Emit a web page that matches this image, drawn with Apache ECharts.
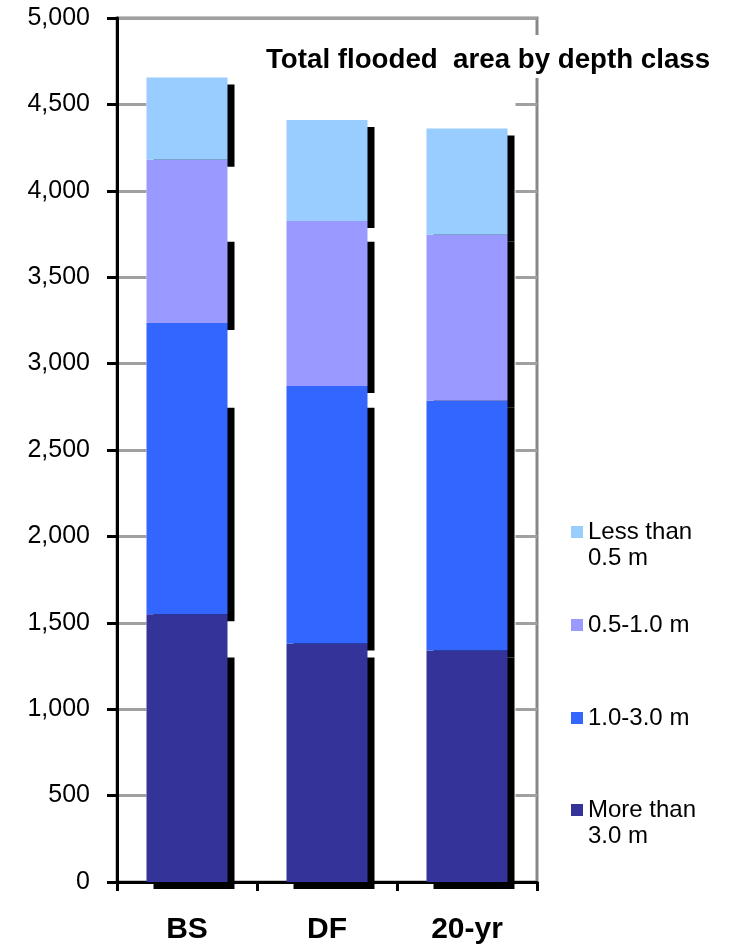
<!DOCTYPE html>
<html>
<head>
<meta charset="utf-8">
<script src="https://cdn.jsdelivr.net/npm/echarts@6/dist/echarts.min.js"></script>
<style>
  html, body { margin: 0; padding: 0; background: #ffffff; }
  #chart { width: 731px; height: 945px; }
</style>
</head>
<body>
<div id="chart"></div>
<script>
// Flooded area (stacked by depth class) for each scenario
const categories = ['BS', 'DF', '20-yr'];
const seriesNames = ['More than 3.0 m', '1.0-3.0 m', '0.5-1.0 m', 'Less than 0.5 m'];
const moreThan3m = [1550, 1380, 1340];
const from1to3m = [1685, 1490, 1445];
const from05to1m = [945, 955, 960];
const lessThan05m = [475, 585, 615];
const legendLabels = ['More than\n3.0 m', '1.0-3.0 m', '0.5-1.0 m', 'Less than\n0.5 m'];
const yMin = 0, yMax = 5000, yStep = 500;
const titleText = 'Total flooded  area by depth class';

const layers = [moreThan3m, from1to3m, from05to1m, lessThan05m];
const colors = ['#333399', '#3366FF', '#9999FF', '#99CCFF'];
const FONT = "'Liberation Sans', Arial, sans-serif";
const BAR_W = 81;   // bar width in px
const SH = 7;       // hard drop-shadow offset in px

// Shadow strips behind each stacked segment: [category, base, visible top]
const shadowRows = [];
const bases = categories.map(() => 0);
layers.forEach((vals, k) => {
  const tops = vals.map((v, c) => bases[c] + v);
  const layerMinTop = Math.min(...tops);
  vals.forEach((v, c) => {
    const top = tops[c];
    const vis = k < layers.length - 1 ? Math.min(top, layerMinTop) : top;
    shadowRows.push([c, bases[c], vis]);
  });
  tops.forEach((t, c) => { bases[c] = t; });
});

const chart = echarts.init(document.getElementById('chart'), null, { renderer: 'canvas' });

// Legend: one block per item, top layer listed first; two-line labels keep
// the swatch level with their first line (blank leading line balances the block)
const legendTops = [771, 705, 612, 493];
const legends = seriesNames.map((name, k) => {
  const twoLine = legendLabels[k].indexOf('\n') >= 0;
  return {
    orient: 'vertical',
    left: 571,
    top: legendTops[k],
    padding: 0,
    itemWidth: 12,
    itemHeight: 12,
    icon: 'rect',
    selectedMode: false,
    data: [name],
    formatter: () => (twoLine ? '\n' : '') + legendLabels[k],
    textStyle: {
      fontFamily: FONT,
      fontSize: 24,
      color: '#000',
      lineHeight: 26
    }
  };
});

const barSeries = layers.map((vals, k) => ({
  name: seriesNames[k],
  type: 'bar',
  stack: 'area',
  z: 3,
  barWidth: BAR_W,
  data: vals,
  itemStyle: { color: colors[k] }
}));

chart.setOption({
  animation: false,
  backgroundColor: '#ffffff',
  color: colors,
  title: {
    text: titleText,
    left: 266,
    top: 35,
    padding: [10, 0, 2, 0],
    backgroundColor: '#ffffff',
    textStyle: {
      fontFamily: FONT,
      fontSize: 27.7,
      fontWeight: 'bold',
      color: '#000',
      lineHeight: 31
    }
  },
  legend: legends,
  grid: {
    left: 117,
    right: 194,
    top: 18,
    bottom: 63,
    show: true,
    borderColor: '#888888',
    borderWidth: 3,
    backgroundColor: 'transparent'
  },
  xAxis: {
    type: 'category',
    data: categories,
    boundaryGap: true,
    axisLine: { lineStyle: { color: '#000', width: 3 } },
    axisTick: { show: true, length: 9, lineStyle: { color: '#000', width: 3 } },
    axisLabel: {
      margin: 33,
      fontFamily: FONT,
      fontSize: 30,
      fontWeight: 'bold',
      color: '#000'
    },
    splitLine: { show: false }
  },
  yAxis: {
    type: 'value',
    min: yMin,
    max: yMax,
    interval: yStep,
    axisLine: { show: true, lineStyle: { color: '#000', width: 3 } },
    axisTick: { show: true, length: 10, lineStyle: { color: '#000', width: 3 } },
    axisLabel: {
      margin: 27,
      fontFamily: FONT,
      fontSize: 25,
      color: '#000',
      formatter: v => v.toString().replace(/\B(?=(\d{3})+(?!\d))/g, ',')
    },
    splitLine: { show: true, lineStyle: { color: '#a0a0a0', width: 3 } }
  },
  series: [
    {
      name: 'shadow',
      type: 'custom',
      z: 2,
      silent: true,
      clip: false,
      data: shadowRows,
      encode: { x: 0, y: [1, 2] },
      renderItem(params, api) {
        const c = api.value(0);
        const lo = api.coord([c, api.value(1)]);
        const hi = api.coord([c, api.value(2)]);
        return {
          type: 'rect',
          shape: { x: lo[0] - BAR_W / 2 + SH, y: hi[1] + SH, width: BAR_W, height: lo[1] - hi[1] },
          style: { fill: '#000000' }
        };
      }
    }
  ].concat(barSeries)
});

// Plot-area fill behind the bars (gridlines stay visible only at the edges)
const xL = chart.convertToPixel({ xAxisIndex: 0 }, 0) - BAR_W / 2;
const xR = chart.convertToPixel({ xAxisIndex: 0 }, categories.length - 1) + BAR_W / 2 + SH + 1;
const yT = chart.convertToPixel({ yAxisIndex: 0 }, yMax);
const yB = chart.convertToPixel({ yAxisIndex: 0 }, yMin);
chart.setOption({
  graphic: [{
    type: 'rect',
    z: 1,
    silent: true,
    shape: { x: xL, y: yT + 2, width: xR - xL, height: yB - yT - 4 },
    style: { fill: '#ffffff' }
  }]
});
</script>
</body>
</html>
